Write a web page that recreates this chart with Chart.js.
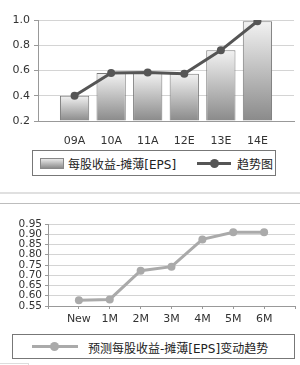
<!DOCTYPE html>
<html>
<head>
<meta charset="utf-8">
<script src="https://cdn.jsdelivr.net/npm/chart.js@4.4.0/dist/chart.umd.min.js"></script>
<style>
  body { margin:0; width:300px; height:365px; background:#fff; position:relative; overflow:hidden;
         font-family:"DejaVu Sans","Noto Sans CJK SC",sans-serif; }
  #c1 { position:absolute; left:0; top:0; }
  #c2 { position:absolute; left:0; top:205px; }
  .legend { position:absolute; border:1px solid #777; box-sizing:border-box; font-size:12px; color:#222;
            font-family:"DejaVu Sans","Noto Sans CJK SC",sans-serif; }
  .legend span { position:absolute; white-space:nowrap; }
  .swatch { position:absolute; border:1px solid #888; box-sizing:border-box;
            background:linear-gradient(#e8e8e8,#8c8c8c); }
  .lline { position:absolute; }
  .ldot { position:absolute; border-radius:50%; }
  .sep1 { position:absolute; left:0; width:300px; top:192px; height:2px; background:#e0e0e0; }
  .sep2 { position:absolute; left:0; width:300px; top:203px; height:1px; background:#bdbdbd; }
  .corner { position:absolute; left:0; top:363px; width:28px; height:3px; border-top:1px solid #ddd; border-right:1px solid #ddd; }
</style>
</head>
<body>
<canvas id="c1" width="300" height="145"></canvas>
<canvas id="c2" width="300" height="125"></canvas>

<div class="legend" style="left:32px;top:150px;width:244px;height:26px;">
  <div class="swatch" style="left:7px;top:7px;width:24px;height:11px;"></div>
  <span style="left:35px;top:4px;">每股收益-摊薄[EPS]</span>
  <div class="lline" style="left:164px;top:11px;width:34px;height:3px;background:#555;"></div>
  <div class="ldot" style="left:177px;top:8px;width:9px;height:9px;background:#555;"></div>
  <span style="left:204px;top:4px;">趋势图</span>
</div>

<div class="sep1"></div>
<div class="sep2"></div>

<div class="legend" style="left:12px;top:334px;width:283px;height:25px;">
  <div class="lline" style="left:19px;top:10px;width:46px;height:3px;background:#aaa;"></div>
  <div class="ldot" style="left:37px;top:7px;width:9px;height:9px;background:#aaa;"></div>
  <span style="left:75px;top:4px;">预测每股收益-摊薄[EPS]变动趋势</span>
</div>
<div class="corner"></div>

<script>
// top chart: EPS by year
var years = ['', '09A', '10A', '11A', '12E', '13E', '14E', ''];
var eps = [null, 0.40, 0.58, 0.585, 0.575, 0.76, 0.99, null];
var trend = [null, 0.40, 0.58, 0.585, 0.575, 0.76, 0.99, null];

// bottom chart: forecast changes
var months = ['', 'New', '1M', '2M', '3M', '4M', '5M', '6M', ''];
var forecast = [null, 0.578, 0.582, 0.722, 0.742, 0.875, 0.91, 0.91, null];

Chart.defaults.font.family = '"DejaVu Sans", sans-serif';
Chart.defaults.font.size = 11;
Chart.defaults.color = '#333';

function barFill(ctx) {
  var chart = ctx.chart;
  var y = chart.scales.y;
  if (!y || ctx.raw == null) return '#bbb';
  var top = y.getPixelForValue(ctx.raw);
  var bot = y.getPixelForValue(0.2);
  if (!isFinite(top) || !isFinite(bot) || bot <= top) return '#bbb';
  var g = chart.ctx.createLinearGradient(0, top, 0, bot);
  g.addColorStop(0, '#f2f2f2');
  g.addColorStop(1, '#8a8a8a');
  return g;
}

const ctx1 = document.getElementById('c1').getContext('2d');
const chart1 = new Chart(ctx1, {
  data: {
    labels: years,
    datasets: [{
      type: 'line',
      label: '趋势图',
      data: trend,
      borderColor: '#555',
      backgroundColor: '#555',
      borderWidth: 3,
      pointRadius: 4,
      pointBackgroundColor: '#555',
      pointBorderWidth: 0,
      tension: 0,
      order: 0
    }, {
      type: 'bar',
      label: '每股收益-摊薄[EPS]',
      data: eps,
      backgroundColor: barFill,
      borderColor: '#7a7a7a',
      borderWidth: 1,
      categoryPercentage: 0.8,
      barPercentage: 1,
      base: 0.2,
      order: 1
    }]
  },
  options: {
    responsive: false,
    animation: false,
    layout: { padding: { top: 20, right: 5, left: 0, bottom: 0 } },
    plugins: { legend: { display: false }, tooltip: { enabled: false } },
    scales: {
      x: {
        offset: false,
        grid: { display: false, drawOnChartArea: false },
        border: { color: '#999' },
        ticks: { padding: 6, maxRotation: 0, autoSkip: false },
        afterFit: function(s) { s.height = 24; }
      },
      y: {
        min: 0.2, max: 1.0,
        ticks: { stepSize: 0.2, padding: 4, callback: function(v) { return v.toFixed(1); } },
        grid: { color: '#d4d4d4', tickLength: 4, tickColor: '#999' },
        border: { color: '#999' },
        afterFit: function(s) { s.width = 38; }
      }
    }
  }
});

const ctx2 = document.getElementById('c2').getContext('2d');
const chart2 = new Chart(ctx2, {
  type: 'line',
  data: {
    labels: months,
    datasets: [{
      label: '预测每股收益-摊薄[EPS]变动趋势',
      data: forecast,
      borderColor: '#aaa',
      backgroundColor: '#aaa',
      borderWidth: 3,
      pointRadius: 4,
      pointBorderWidth: 0,
      pointBackgroundColor: '#aaa',
      tension: 0
    }]
  },
  options: {
    responsive: false,
    animation: false,
    layout: { padding: { top: 19, right: 5, left: 0, bottom: 0 } },
    plugins: { legend: { display: false }, tooltip: { enabled: false } },
    scales: {
      x: {
        offset: false,
        grid: { drawOnChartArea: false, tickLength: 3, color: '#999' },
        border: { color: '#999' },
        ticks: { padding: 4, maxRotation: 0, autoSkip: false },
        afterFit: function(s) { s.height = 24; }
      },
      y: {
        min: 0.55, max: 0.95,
        ticks: { stepSize: 0.05, padding: 3, autoSkip: false, font: { size: 10.5 }, callback: function(v) { return v.toFixed(2); } },
        grid: { color: '#d4d4d4', tickLength: 3, tickColor: '#999' },
        border: { color: '#999' },
        afterFit: function(s) { s.width = 48; }
      }
    }
  }
});
</script>
</body>
</html>
